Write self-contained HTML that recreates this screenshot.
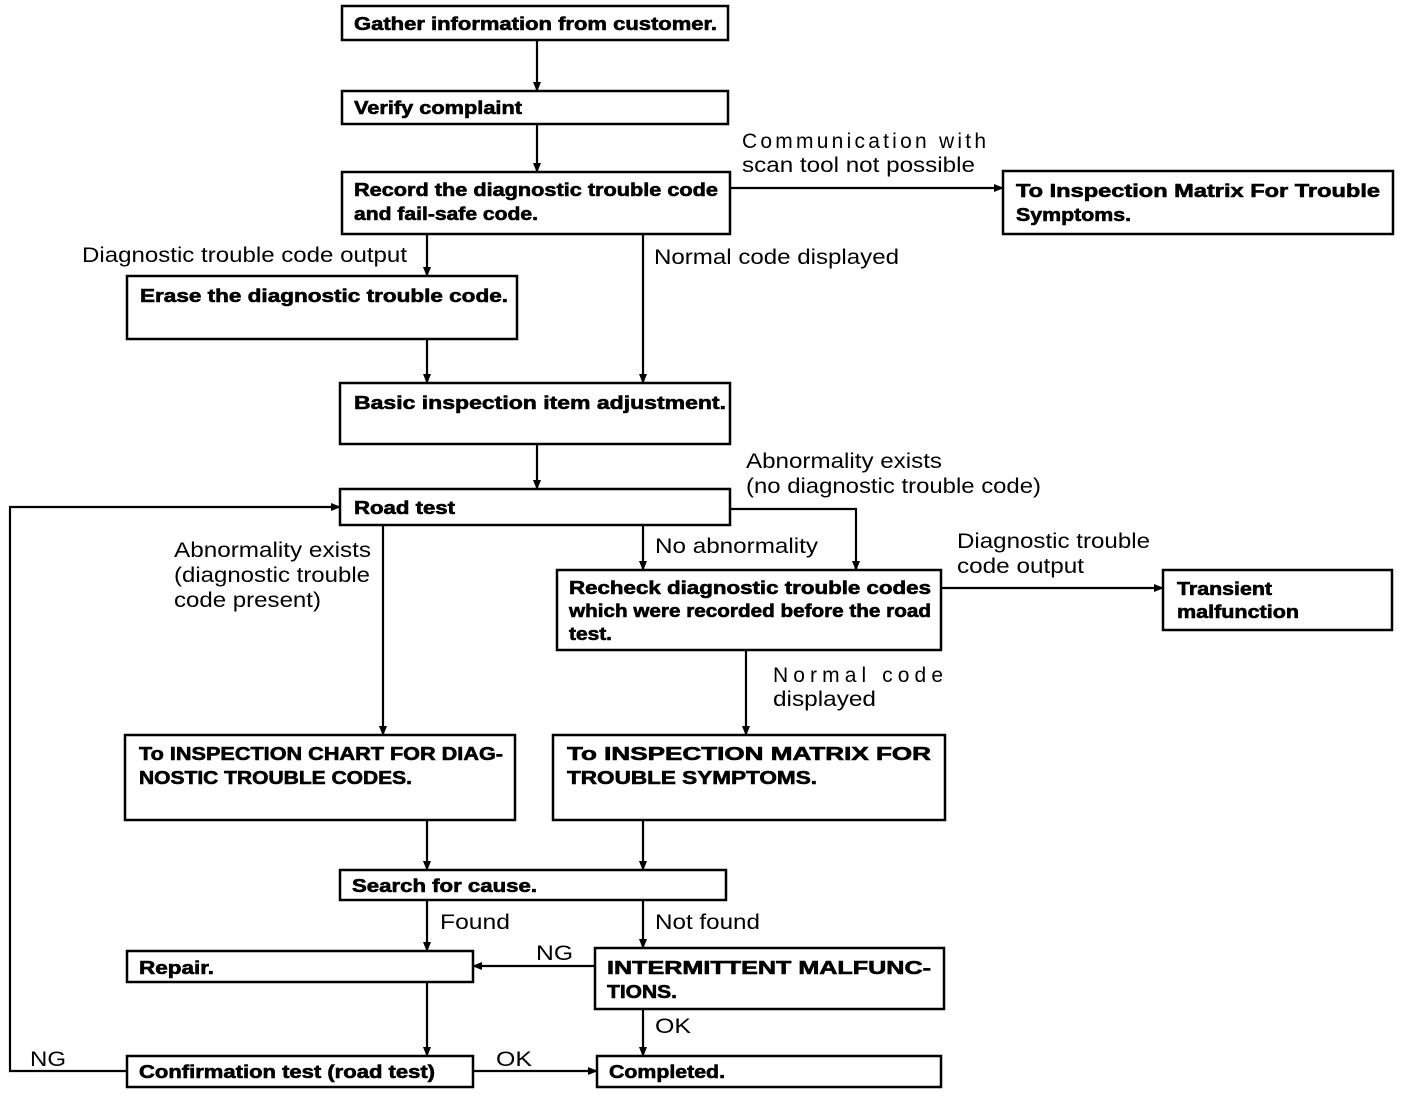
<!DOCTYPE html>
<html><head><meta charset="utf-8"><style>
html,body{margin:0;padding:0;background:#fff;}
svg{display:block;}
.b{font-family:"Liberation Sans",Arial,sans-serif;font-weight:bold;font-size:18px;fill:#000;stroke:#000;stroke-width:0.6;}
.l{font-family:"Liberation Sans",Arial,sans-serif;font-size:21px;fill:#000;}
rect{fill:none;stroke:#000;stroke-width:2.5;}
line,polyline{stroke:#000;stroke-width:2.2;fill:none;}
</style></head><body>
<svg width="1408" height="1096" viewBox="0 0 1408 1096" xmlns="http://www.w3.org/2000/svg">
<defs><marker id="a" markerWidth="10" markerHeight="10" refX="9" refY="5" orient="auto" markerUnits="userSpaceOnUse"><path d="M0,1 L10,5 L0,9 z" fill="#000"/></marker></defs>
<g lengthAdjust="spacingAndGlyphs">
<rect x="342" y="6" width="386" height="34"/>
<text class="b" x="354" y="30" textLength="363" lengthAdjust="spacingAndGlyphs">Gather information from customer.</text>
<rect x="342" y="91" width="386" height="33"/>
<text class="b" x="354" y="114" textLength="168" lengthAdjust="spacingAndGlyphs">Verify complaint</text>
<rect x="342" y="172" width="388" height="62"/>
<text class="b" x="354" y="196" textLength="364" lengthAdjust="spacingAndGlyphs">Record the diagnostic trouble code</text>
<text class="b" x="354" y="220" textLength="184" lengthAdjust="spacingAndGlyphs">and fail-safe code.</text>
<rect x="1003" y="171" width="390" height="63"/>
<text class="b" x="1016" y="197" textLength="364" lengthAdjust="spacingAndGlyphs">To Inspection Matrix For Trouble</text>
<text class="b" x="1016" y="221" textLength="115" lengthAdjust="spacingAndGlyphs">Symptoms.</text>
<rect x="127" y="276" width="390" height="63"/>
<text class="b" x="140" y="302" textLength="368" lengthAdjust="spacingAndGlyphs">Erase the diagnostic trouble code.</text>
<rect x="340" y="383" width="390" height="61"/>
<text class="b" x="354" y="409" textLength="372" lengthAdjust="spacingAndGlyphs">Basic inspection item adjustment.</text>
<rect x="340" y="489" width="390" height="36"/>
<text class="b" x="354" y="514" textLength="101" lengthAdjust="spacingAndGlyphs">Road test</text>
<rect x="557" y="570" width="384" height="80"/>
<text class="b" x="569" y="594" textLength="362" lengthAdjust="spacingAndGlyphs">Recheck diagnostic trouble codes</text>
<text class="b" x="569" y="617" textLength="362" lengthAdjust="spacingAndGlyphs">which were recorded before the road</text>
<text class="b" x="569" y="640" textLength="43" lengthAdjust="spacingAndGlyphs">test.</text>
<rect x="1163" y="570" width="229" height="60"/>
<text class="b" x="1177" y="595" textLength="95" lengthAdjust="spacingAndGlyphs">Transient</text>
<text class="b" x="1177" y="618" textLength="122" lengthAdjust="spacingAndGlyphs">malfunction</text>
<rect x="125" y="735" width="390" height="85"/>
<text class="b" x="139" y="760" textLength="364" lengthAdjust="spacingAndGlyphs">To INSPECTION CHART FOR DIAG-</text>
<text class="b" x="139" y="784" textLength="273" lengthAdjust="spacingAndGlyphs">NOSTIC TROUBLE CODES.</text>
<rect x="553" y="735" width="392" height="85"/>
<text class="b" x="567" y="760" textLength="364" lengthAdjust="spacingAndGlyphs">To INSPECTION MATRIX FOR</text>
<text class="b" x="567" y="784" textLength="250" lengthAdjust="spacingAndGlyphs">TROUBLE SYMPTOMS.</text>
<rect x="340" y="870" width="386" height="30"/>
<text class="b" x="352" y="892" textLength="185" lengthAdjust="spacingAndGlyphs">Search for cause.</text>
<rect x="127" y="951" width="346" height="31"/>
<text class="b" x="139" y="974" textLength="75" lengthAdjust="spacingAndGlyphs">Repair.</text>
<rect x="595" y="948" width="349" height="61"/>
<text class="b" x="607" y="974" textLength="324" lengthAdjust="spacingAndGlyphs">INTERMITTENT MALFUNC-</text>
<text class="b" x="607" y="998" textLength="70" lengthAdjust="spacingAndGlyphs">TIONS.</text>
<rect x="127" y="1056" width="346" height="31"/>
<text class="b" x="139" y="1078" textLength="296" lengthAdjust="spacingAndGlyphs">Confirmation test (road test)</text>
<rect x="597" y="1056" width="344" height="31"/>
<text class="b" x="609" y="1078" textLength="116" lengthAdjust="spacingAndGlyphs">Completed.</text>
</g>
<line x1="537" y1="40" x2="537" y2="91" marker-end="url(#a)"/>
<line x1="537" y1="124" x2="537" y2="172" marker-end="url(#a)"/>
<line x1="730" y1="188" x2="1003" y2="188" marker-end="url(#a)"/>
<line x1="427" y1="234" x2="427" y2="276" marker-end="url(#a)"/>
<line x1="643" y1="234" x2="643" y2="383" marker-end="url(#a)"/>
<line x1="427" y1="339" x2="427" y2="383" marker-end="url(#a)"/>
<line x1="537" y1="444" x2="537" y2="489" marker-end="url(#a)"/>
<polyline points="127,1071 10,1071 10,507 340,507" marker-end="url(#a)"/>
<line x1="383" y1="525" x2="383" y2="735" marker-end="url(#a)"/>
<line x1="643" y1="525" x2="643" y2="570" marker-end="url(#a)"/>
<polyline points="730,509 856,509 856,570" marker-end="url(#a)"/>
<line x1="941" y1="588" x2="1163" y2="588" marker-end="url(#a)"/>
<line x1="746" y1="650" x2="746" y2="735" marker-end="url(#a)"/>
<line x1="427" y1="820" x2="427" y2="870" marker-end="url(#a)"/>
<line x1="643" y1="820" x2="643" y2="870" marker-end="url(#a)"/>
<line x1="427" y1="900" x2="427" y2="951" marker-end="url(#a)"/>
<line x1="643" y1="900" x2="643" y2="948" marker-end="url(#a)"/>
<line x1="595" y1="966" x2="473" y2="966" marker-end="url(#a)"/>
<line x1="643" y1="1009" x2="643" y2="1056" marker-end="url(#a)"/>
<line x1="427" y1="982" x2="427" y2="1056" marker-end="url(#a)"/>
<line x1="473" y1="1071" x2="597" y2="1071" marker-end="url(#a)"/>
<text class="l" x="742" y="148" textLength="244" lengthAdjust="spacing">Communication with</text>
<text class="l" x="742" y="172" textLength="233" lengthAdjust="spacingAndGlyphs">scan tool not possible</text>
<text class="l" x="82" y="262" textLength="325" lengthAdjust="spacingAndGlyphs">Diagnostic trouble code output</text>
<text class="l" x="654" y="264" textLength="245" lengthAdjust="spacingAndGlyphs">Normal code displayed</text>
<text class="l" x="746" y="468" textLength="196" lengthAdjust="spacingAndGlyphs">Abnormality exists</text>
<text class="l" x="746" y="493" textLength="295" lengthAdjust="spacingAndGlyphs">(no diagnostic trouble code)</text>
<text class="l" x="174" y="557" textLength="197" lengthAdjust="spacingAndGlyphs">Abnormality exists</text>
<text class="l" x="174" y="582" textLength="196" lengthAdjust="spacingAndGlyphs">(diagnostic trouble</text>
<text class="l" x="174" y="607" textLength="147" lengthAdjust="spacingAndGlyphs">code present)</text>
<text class="l" x="655" y="553" textLength="163" lengthAdjust="spacingAndGlyphs">No abnormality</text>
<text class="l" x="957" y="548" textLength="193" lengthAdjust="spacingAndGlyphs">Diagnostic trouble</text>
<text class="l" x="957" y="573" textLength="127" lengthAdjust="spacingAndGlyphs">code output</text>
<text class="l" x="773" y="682" textLength="170" lengthAdjust="spacing">Normal code</text>
<text class="l" x="773" y="706" textLength="103" lengthAdjust="spacingAndGlyphs">displayed</text>
<text class="l" x="440" y="929" textLength="70" lengthAdjust="spacingAndGlyphs">Found</text>
<text class="l" x="655" y="929" textLength="105" lengthAdjust="spacingAndGlyphs">Not found</text>
<text class="l" x="536" y="960" textLength="37" lengthAdjust="spacingAndGlyphs">NG</text>
<text class="l" x="655" y="1033" textLength="36" lengthAdjust="spacingAndGlyphs">OK</text>
<text class="l" x="30" y="1066" textLength="36" lengthAdjust="spacingAndGlyphs">NG</text>
<text class="l" x="496" y="1066" textLength="36" lengthAdjust="spacingAndGlyphs">OK</text>
</svg>
</body></html>
